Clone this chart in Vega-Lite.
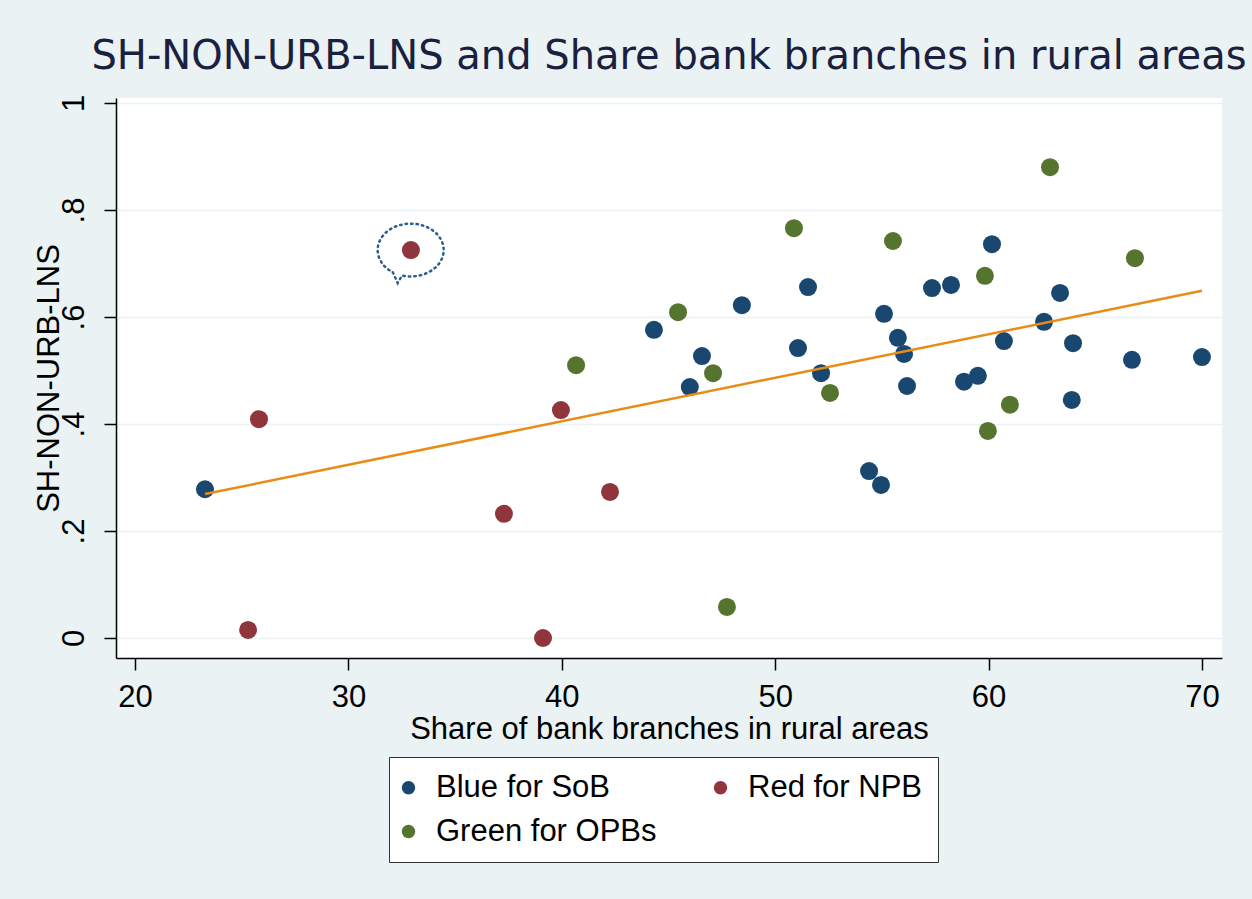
{
  "$schema": "https://vega.github.io/schema/vega-lite/v6.json",
  "autosize": {"type": "none"},
  "width": 1106,
  "height": 560,
  "padding": {"left": 116, "top": 98, "right": 30, "bottom": 241},
  "background": "#eaf2f3",
  "config": {
    "view": {"fill": "white", "stroke": null},
    "font": "Liberation Sans"
  },
  "title": {
    "text": "SH-NON-URB-LNS and Share bank branches in rural areas",
    "font": "DejaVu Sans",
    "fontSize": 40,
    "fontWeight": "normal",
    "color": "#1a2040",
    "anchor": "middle",
    "baseline": "alphabetic",
    "offset": -15
  },
  "datasets": {
    "points": [
      {"share": 23.28, "shnon": 0.278, "group": "Blue for SoB"},
      {"share": 44.32, "shnon": 0.576, "group": "Blue for SoB"},
      {"share": 46.0, "shnon": 0.469, "group": "Blue for SoB"},
      {"share": 46.57, "shnon": 0.527, "group": "Blue for SoB"},
      {"share": 48.44, "shnon": 0.622, "group": "Blue for SoB"},
      {"share": 51.07, "shnon": 0.542, "group": "Blue for SoB"},
      {"share": 51.54, "shnon": 0.656, "group": "Blue for SoB"},
      {"share": 52.15, "shnon": 0.495, "group": "Blue for SoB"},
      {"share": 54.4, "shnon": 0.312, "group": "Blue for SoB"},
      {"share": 54.96, "shnon": 0.286, "group": "Blue for SoB"},
      {"share": 55.1, "shnon": 0.606, "group": "Blue for SoB"},
      {"share": 55.75, "shnon": 0.561, "group": "Blue for SoB"},
      {"share": 56.04, "shnon": 0.531, "group": "Blue for SoB"},
      {"share": 56.18, "shnon": 0.471, "group": "Blue for SoB"},
      {"share": 57.35, "shnon": 0.654, "group": "Blue for SoB"},
      {"share": 58.24, "shnon": 0.66, "group": "Blue for SoB"},
      {"share": 58.85, "shnon": 0.479, "group": "Blue for SoB"},
      {"share": 59.5, "shnon": 0.49, "group": "Blue for SoB"},
      {"share": 60.16, "shnon": 0.736, "group": "Blue for SoB"},
      {"share": 60.72, "shnon": 0.555, "group": "Blue for SoB"},
      {"share": 62.6, "shnon": 0.591, "group": "Blue for SoB"},
      {"share": 63.35, "shnon": 0.645, "group": "Blue for SoB"},
      {"share": 63.96, "shnon": 0.551, "group": "Blue for SoB"},
      {"share": 63.9, "shnon": 0.445, "group": "Blue for SoB"},
      {"share": 66.72, "shnon": 0.52, "group": "Blue for SoB"},
      {"share": 70.0, "shnon": 0.525, "group": "Blue for SoB"},
      {"share": 32.93, "shnon": 0.725, "group": "Red for NPB"},
      {"share": 25.81, "shnon": 0.409, "group": "Red for NPB"},
      {"share": 25.3, "shnon": 0.015, "group": "Red for NPB"},
      {"share": 37.29, "shnon": 0.232, "group": "Red for NPB"},
      {"share": 39.96, "shnon": 0.426, "group": "Red for NPB"},
      {"share": 42.26, "shnon": 0.273, "group": "Red for NPB"},
      {"share": 39.12, "shnon": 0.0, "group": "Red for NPB"},
      {"share": 40.67, "shnon": 0.51, "group": "Green for OPBs"},
      {"share": 45.45, "shnon": 0.609, "group": "Green for OPBs"},
      {"share": 47.09, "shnon": 0.495, "group": "Green for OPBs"},
      {"share": 47.74, "shnon": 0.058, "group": "Green for OPBs"},
      {"share": 50.88, "shnon": 0.766, "group": "Green for OPBs"},
      {"share": 52.57, "shnon": 0.458, "group": "Green for OPBs"},
      {"share": 55.52, "shnon": 0.742, "group": "Green for OPBs"},
      {"share": 59.83, "shnon": 0.677, "group": "Green for OPBs"},
      {"share": 59.97, "shnon": 0.387, "group": "Green for OPBs"},
      {"share": 61.0, "shnon": 0.436, "group": "Green for OPBs"},
      {"share": 62.88, "shnon": 0.88, "group": "Green for OPBs"},
      {"share": 66.86, "shnon": 0.71, "group": "Green for OPBs"}
    ],
    "fit": [
      {"share": 23.28, "shnon": 0.269},
      {"share": 70.0, "shnon": 0.649}
    ]
  },
  "layer": [
    {
      "data": {"name": "points"},
      "mark": {"type": "point", "filled": true, "opacity": 1, "size": 324, "shape": "circle"},
      "encoding": {
        "x": {
          "field": "share", "type": "quantitative",
          "scale": {"domain": [19.11, 70.94], "nice": false, "zero": false},
          "axis": {
            "title": "Share of bank branches in rural areas",
            "values": [20, 30, 40, 50, 60, 70],
            "grid": false,
            "domainColor": "#000000", "domainWidth": 1.5,
            "tickColor": "#000000", "tickWidth": 1.5, "tickSize": 12,
            "labelFontSize": 31, "labelColor": "#000000", "labelPadding": 12,
            "titleFontSize": 31, "titleFontWeight": "normal", "titleColor": "#000000", "titlePadding": 2
          }
        },
        "y": {
          "field": "shnon", "type": "quantitative",
          "scale": {"domain": [-0.0374, 1.0093], "nice": false, "zero": false},
          "axis": {
            "title": "SH-NON-URB-LNS",
            "values": [0, 0.2, 0.4, 0.6, 0.8, 1],
            "labelExpr": "datum.value == 0 ? '0' : datum.value == 1 ? '1' : replace(format(datum.value, '.1f'), '0.', '.')",
            "grid": true, "gridColor": "#eaf2f3", "gridWidth": 1.5,
            "domainColor": "#000000", "domainWidth": 1.5,
            "tickColor": "#000000", "tickWidth": 1.5, "tickSize": 12,
            "labelFontSize": 31, "labelColor": "#000000", "labelAngle": -90,
            "labelAlign": "center", "labelBaseline": "alphabetic", "labelPadding": 21,
            "titleFontSize": 31, "titleFontWeight": "normal", "titleColor": "#000000", "titlePadding": -7
          }
        },
        "color": {
          "field": "group", "type": "nominal",
          "scale": {
            "domain": ["Blue for SoB", "Red for NPB", "Green for OPBs"],
            "range": ["#1a476f", "#90353b", "#55752f"]
          },
          "legend": {
            "title": null,
            "orient": "none",
            "legendX": 273,
            "legendY": 659,
            "direction": "horizontal",
            "columns": 2,
            "columnPadding": 56,
            "rowPadding": 12,
            "padding": 15,
            "fillColor": "white",
            "strokeColor": "#333333",
            "symbolType": "circle",
            "symbolSize": 180,
            "symbolStrokeWidth": 0,
            "symbolOffset": -11,
            "labelFontSize": 31,
            "labelColor": "#000000",
            "labelOffset": 12,
            "labelLimit": 400
          }
        }
      }
    },
    {
      "data": {"name": "fit"},
      "mark": {"type": "line", "color": "#e98c15", "strokeWidth": 2.5},
      "encoding": {
        "x": {"field": "share", "type": "quantitative"},
        "y": {"field": "shnon", "type": "quantitative"}
      }
    },
    {
      "data": {"name": "points"},
      "transform": [{"filter": "datum.group == 'Red for NPB' && datum.shnon > 0.7"}],
      "mark": {
        "type": "point",
        "shape": "M -0.55 0.67 L -0.4 1.0 L -0.27 0.77 A 1 0.8 0 1 0 -0.55 0.67 Z",
        "size": 4356,
        "filled": false,
        "opacity": 1,
        "stroke": "#2e5f8f",
        "strokeWidth": 2.5,
        "strokeDash": [1.5, 4],
        "strokeCap": "round"
      },
      "encoding": {
        "x": {"field": "share", "type": "quantitative"},
        "y": {"field": "shnon", "type": "quantitative"}
      }
    }
  ]
}
